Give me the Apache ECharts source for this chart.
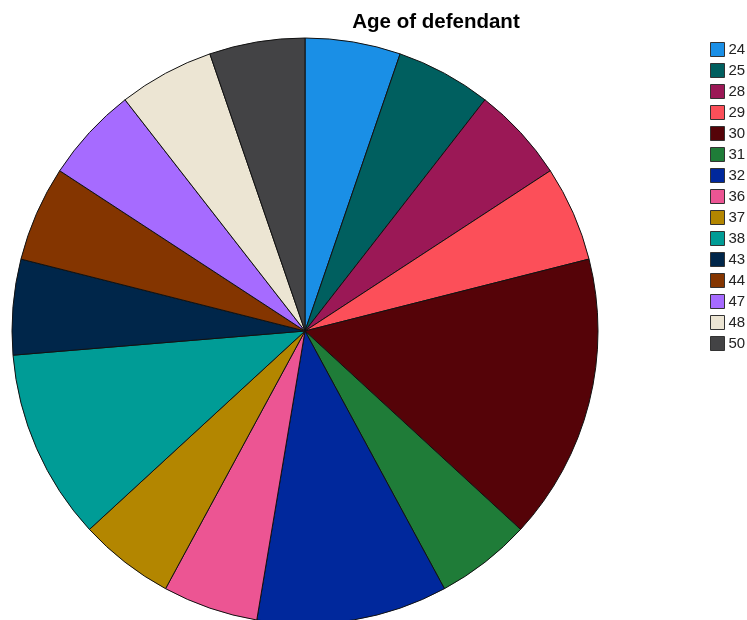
<!DOCTYPE html>
<html>
<head>
<meta charset="utf-8">
<script src="https://cdn.jsdelivr.net/npm/echarts@6/dist/echarts.min.js"></script>
<style>
  html, body { margin: 0; padding: 0; background: #ffffff; }
  #chart { width: 747px; height: 620px; }
</style>
</head>
<body>
<div id="chart"></div>
<script>
// Ages of defendants and how many defendants had each age
const ages = ['24', '25', '28', '29', '30', '31', '32', '36', '37', '38', '43', '44', '47', '48', '50'];
const counts = [1, 1, 1, 1, 3, 1, 2, 1, 1, 2, 1, 1, 1, 1, 1];
const sliceColors = ['#1a8fe6', '#005f5f', '#9b1856', '#fc4f59', '#550308', '#1f7c38', '#00289c',
  '#ec5593', '#b38600', '#009c96', '#00264a', '#843500', '#a66bff', '#ece5d3', '#434345'];

const chart = echarts.init(document.getElementById('chart'), null, { renderer: 'canvas' });

const pieData = ages.map((a, i) => ({
  name: a,
  value: counts[i],
  itemStyle: { color: sliceColors[i] }
}));

chart.setOption({
  animation: false,
  title: {
    text: 'Age of defendant',
    left: 431,
    top: 7,
    textAlign: 'center',
    textStyle: { fontFamily: 'Liberation Sans, Arial, sans-serif', fontWeight: 'bold', fontSize: 20.5, color: '#000' }
  },
  legend: {
    orient: 'vertical',
    left: 705,
    top: 37,
    itemWidth: 14,
    itemHeight: 14,
    itemGap: 6,
    icon: 'rect',
    itemStyle: { borderColor: '#333', borderWidth: 1 },
    textStyle: { fontFamily: 'Liberation Sans, Arial, sans-serif', fontSize: 15, color: '#222', padding: [0, 0, 0, -1] },
    data: ages
  },
  series: [{
    type: 'pie',
    center: [305, 331],
    radius: [0, 293],
    startAngle: 90,
    clockwise: true,
    label: { show: false },
    labelLine: { show: false },
    emphasis: { disabled: true },
    itemStyle: { borderColor: '#111', borderWidth: 1 },
    data: pieData
  }]
});
</script>
</body>
</html>
